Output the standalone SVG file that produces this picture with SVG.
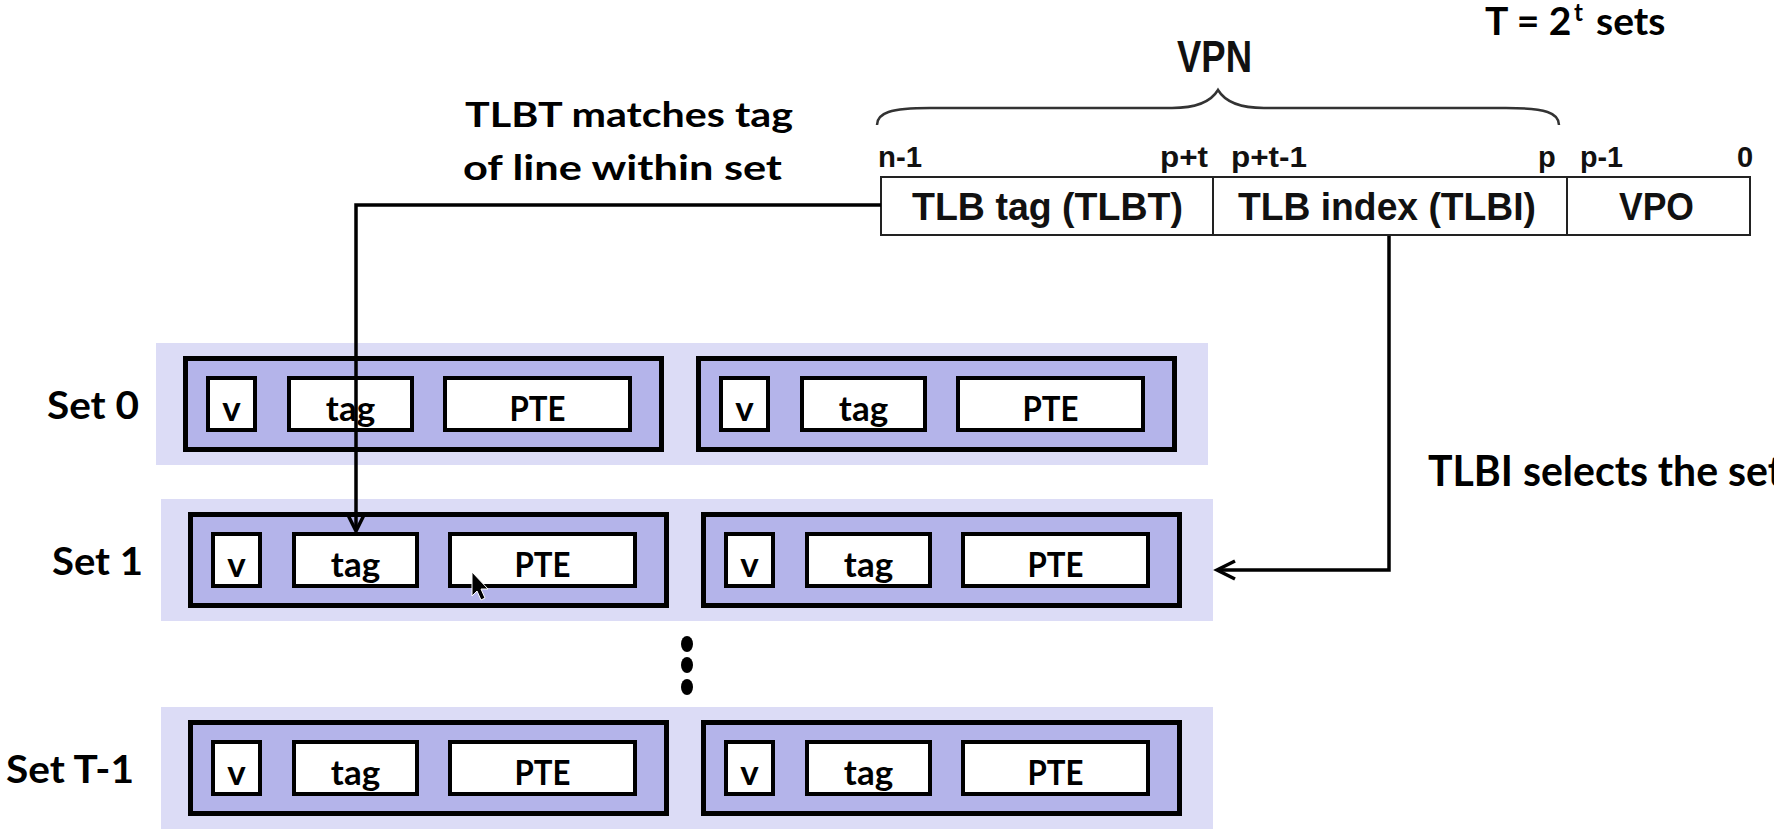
<svg xmlns="http://www.w3.org/2000/svg" width="1774" height="835" viewBox="0 0 1774 835">
<defs>
<style>
.cal{font-family:Lato,"Open Sans","DejaVu Sans",sans-serif;font-weight:bold;fill:#000}
.ar{font-family:"Liberation Sans",Arial,sans-serif;font-weight:bold;fill:#111}
.band{fill:#dcdcf6;stroke:none}
.line{fill:#b4b4ea;stroke:#000;stroke-width:5}
.cell{fill:#fff;stroke:#000;stroke-width:4}
.lbl{font-size:35px;text-anchor:middle}
.setl{font-size:39px}
.va{fill:#fff;stroke:#222;stroke-width:2}
.conn{fill:none;stroke:#000;stroke-width:3.5}
</style>
<marker id="chev" markerUnits="userSpaceOnUse" viewBox="-20 -12 24 24" refX="0" refY="0" markerWidth="24" markerHeight="24" orient="auto">
<path d="M -18 -9 L 0 0 L -18 9" fill="none" stroke="#000" stroke-width="3.5"/>
</marker>
<g id="waytpl">
<rect class="line" x="2.5" y="15.5" width="476" height="91"/>
<rect class="cell" x="25" y="35" width="47" height="52"/>
<rect class="cell" x="106" y="35" width="123" height="52"/>
<rect class="cell" x="262" y="35" width="185" height="52"/>
<text class="cal lbl" x="48.5" y="78">v</text>
<text class="cal lbl" x="167.5" y="78">tag</text>
<text class="cal lbl" x="354.5" y="78" textLength="56" lengthAdjust="spacingAndGlyphs">PTE</text>
</g>
</defs>

<g id="title">
<text class="cal" font-size="39"><tspan x="1485" y="35">T = 2</tspan><tspan x="1574" y="21" font-size="24">t</tspan><tspan x="1596" y="35">sets</tspan></text>
</g>

<g id="vpn-label">
<text class="ar" x="1177" y="72" font-size="44" textLength="75" lengthAdjust="spacingAndGlyphs">VPN</text>
<path d="M 877 125 C 877 113 890 108 930 108 L 1172 108 C 1200 108 1212 100 1218 90 C 1224 100 1236 108 1264 108 L 1506 108 C 1546 108 1559 113 1559 125" fill="none" stroke="#333" stroke-width="2.5"/>
</g>

<g id="vaddr">
<rect class="va" x="881" y="177" width="869" height="58"/>
<line x1="1213" y1="177" x2="1213" y2="235" stroke="#222" stroke-width="2"/>
<line x1="1567" y1="177" x2="1567" y2="235" stroke="#222" stroke-width="2"/>
<text class="ar" font-size="29" x="878" y="167" textLength="44" lengthAdjust="spacingAndGlyphs">n-1</text>
<text class="ar" font-size="29" x="1160" y="167" textLength="48" lengthAdjust="spacingAndGlyphs">p+t</text>
<text class="ar" font-size="29" x="1231" y="167" textLength="76" lengthAdjust="spacingAndGlyphs">p+t-1</text>
<text class="ar" font-size="29" x="1538" y="167">p</text>
<text class="ar" font-size="29" x="1580" y="167" textLength="43" lengthAdjust="spacingAndGlyphs">p-1</text>
<text class="ar" font-size="29" x="1737" y="167">0</text>
<text class="ar" font-size="39" x="912" y="220" textLength="271" lengthAdjust="spacingAndGlyphs">TLB tag (TLBT)</text>
<text class="ar" font-size="39" x="1238" y="220" textLength="298" lengthAdjust="spacingAndGlyphs">TLB index (TLBI)</text>
<text class="ar" font-size="39" x="1619" y="220" textLength="75" lengthAdjust="spacingAndGlyphs">VPO</text>
</g>

<g id="note-tlbt">
<text class="cal" font-size="35" x="465" y="127" textLength="328" lengthAdjust="spacingAndGlyphs">TLBT matches tag</text>
<text class="cal" font-size="35" x="463" y="180" textLength="319" lengthAdjust="spacingAndGlyphs">of line within set</text>
</g>

<g id="note-tlbi">
<text class="cal" font-size="42" x="1428" y="486" textLength="355" lengthAdjust="spacingAndGlyphs">TLBI selects the set</text>
</g>

<g id="set0" transform="translate(-5,343)">
<rect class="band" x="161" y="0" width="1052" height="122"/>
<use href="#waytpl" x="188" y="0"/>
<use href="#waytpl" x="701" y="0"/>
</g>
<text class="cal setl" x="47" y="419" textLength="92" lengthAdjust="spacingAndGlyphs">Set 0</text>

<g id="set1" transform="translate(0,499)">
<rect class="band" x="161" y="0" width="1052" height="122"/>
<use href="#waytpl" x="188" y="0"/>
<use href="#waytpl" x="701" y="0"/>
</g>
<text class="cal setl" x="52" y="575" textLength="91" lengthAdjust="spacingAndGlyphs">Set 1</text>

<g id="setT1" transform="translate(0,707)">
<rect class="band" x="161" y="0" width="1052" height="122"/>
<use href="#waytpl" x="188" y="0"/>
<use href="#waytpl" x="701" y="0"/>
</g>
<text class="cal setl" x="6" y="783" textLength="128" lengthAdjust="spacingAndGlyphs">Set T-1</text>

<g id="ellipsis" fill="#000">
<ellipse cx="687" cy="644" rx="6" ry="8"/>
<ellipse cx="687" cy="665" rx="6" ry="8"/>
<ellipse cx="687" cy="687" rx="6" ry="8"/>
</g>

<g id="connectors">
<path class="conn" d="M 881 205 H 356 V 531" marker-end="url(#chev)"/>
<path class="conn" d="M 1389 236 V 570 H 1217" marker-end="url(#chev)"/>
</g>

<g id="cursor">
<path d="M 472 572 L 472 596 L 477 591 L 481 600 L 485 598 L 481 589 L 488 589 Z" fill="#000" stroke="#fff" stroke-width="1"/>
</g>
</svg>
